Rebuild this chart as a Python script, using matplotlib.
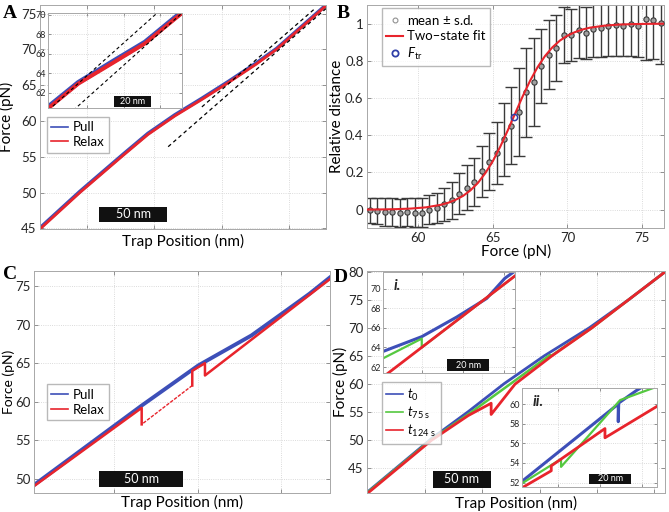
import numpy as np
import matplotlib
matplotlib.use("Agg")
import matplotlib.pyplot as plt
from matplotlib.patches import Rectangle

plt.rcParams['font.family'] = ['Lato', 'DejaVu Sans']
plt.rcParams['mathtext.fontset'] = 'custom'
plt.rcParams['mathtext.rm'] = 'Lato'
plt.rcParams['mathtext.it'] = 'Lato:italic'

BLUE = '#3d4fb8'
RED = '#e8242c'
GREEN = '#55c840'
GRAY = '#a8a8a8'
TXT = '#262626'

# ---------------- panel A : force vs trap position (nm, pN)
a_pull_x = [0, 29.6, 61.7, 80, 100, 120, 140, 160, 175.3, 212]
a_pull_f = [45.05, 50.15, 55.35, 58.25, 60.85, 63.15, 65.55, 68.05, 70.1, 76.2]
a_relax_x = [0, 29.6, 61.7, 80, 100, 120, 140, 160, 175.3, 212]
a_relax_f = [44.9, 50.0, 55.2, 58.1, 60.7, 63.0, 65.4, 67.9, 70.0, 76.1]
a_fold_x = [120, 204.4]
a_fold_f = [61.96, 75.8]
a_unfold_x = [95, 212]
a_unfold_f = [56.4, 75.7]

# inset of A
ai_pull_x = [0, 16.5, 36.7, 53.2, 73.4]
ai_pull_f = [60.55, 63.05, 65.35, 67.2, 70.3]
ai_relax_x = [0, 16.5, 36.7, 53.2, 73.4]
ai_relax_f = [60.4, 62.93, 65.2, 67.07, 70.17]
ai_fold_x = [0, 59.7]
ai_fold_f = [60.2, 70.17]
ai_unfold_x = [13.8, 73.4]
ai_unfold_f = [60.2, 70.17]

# ---------------- panel B : relative distance vs force
b_force = [56.75, 57.25, 57.75, 58.25, 58.75, 59.25, 59.75, 60.25, 60.75, 61.25,
           61.75, 62.25, 62.75, 63.25, 63.75, 64.25, 64.75, 65.25, 65.75, 66.25,
           66.75, 67.25, 67.75, 68.25, 68.75, 69.25, 69.75, 70.25, 70.75, 71.25,
           71.75, 72.25, 72.75, 73.25, 73.75, 74.25, 74.75, 75.25, 75.75, 76.25]
b_mean = [-0.004, -0.009, -0.013, -0.013, -0.016, -0.013, -0.016, -0.016, 0.0, 0.009,
          0.029, 0.05, 0.086, 0.119, 0.149, 0.207, 0.257, 0.306, 0.378, 0.451,
          0.527, 0.63, 0.685, 0.773, 0.833, 0.869, 0.937, 0.94, 0.964, 0.95,
          0.973, 0.977, 0.986, 0.991, 0.986, 0.998, 0.989, 1.025, 1.021, 1.003]
b_sd = [0.065, 0.07, 0.074, 0.074, 0.075, 0.076, 0.077, 0.077, 0.077, 0.08,
        0.09, 0.10, 0.11, 0.12, 0.13, 0.137, 0.153, 0.166, 0.198, 0.207,
        0.236, 0.237, 0.236, 0.20, 0.187, 0.175, 0.15, 0.14, 0.15, 0.14,
        0.15, 0.155, 0.16, 0.165, 0.16, 0.17, 0.17, 0.22, 0.21, 0.22]
fit_force = [56.5, 57.5, 58.5, 59.5, 60.5, 61.5, 62.0, 62.5, 63.0, 63.5, 64.0, 64.5,
             65.0, 65.5, 66.0, 66.5, 67.0, 67.5, 68.0, 68.5, 69.0, 69.5, 70.0, 70.5,
             71.0, 71.5, 72.5, 73.5, 74.5, 75.5, 76.5]
fit_value = [0.0007, 0.0014, 0.0029, 0.006, 0.0125, 0.026, 0.037, 0.053, 0.074, 0.104,
             0.144, 0.197, 0.261, 0.339, 0.426, 0.518, 0.609, 0.693, 0.766, 0.826,
             0.873, 0.909, 0.935, 0.954, 0.968, 0.978, 0.989, 0.995, 0.9975, 0.9988, 0.9994]
f_tr = 66.4
f_tr_value = 0.5

# ---------------- panel C
c_pull_x = [0, 64.5, 98.4, 130.3, 150.3, 165, 178.3]
c_pull_f = [49.2, 59.5, 64.7, 68.6, 71.7, 74.0, 76.3]
# relax: unfolded branch with two hops, sparse stretch, then refolded branch
c_relax_hi_x = [178.3, 102.4, 102.4, 94.8, 94.8]
c_relax_hi_f = [76.07, 63.4, 65.0, 64.0, 62.1]
c_relax_mid_x = [94.8, 64.5]
c_relax_mid_f = [62.1, 57.06]
c_relax_lo_x = [64.5, 64.5, 0]
c_relax_lo_f = [57.06, 59.2, 49.05]

# ---------------- panel D
d_t0_x = [0, 56, 88, 119.4, 154.3, 193.6, 227.5, 259.5]
d_t0_f = [40.75, 50.3, 55.1, 60.1, 65.05, 70.05, 75.0, 80.0]
d_t75_x = [0, 56, 90, 123.8, 159.3, 159.3, 195.6, 227.5, 259.5]
d_t75_f = [40.65, 50.15, 54.9, 59.9, 65.2, 64.9, 70.0, 75.0, 80.0]
d_t124_x = [0, 56, 88, 108, 108, 128.8, 160.7, 195.6, 227.5, 259.5]
d_t124_f = [40.5, 50.0, 54.4, 56.6, 54.6, 60.0, 65.0, 70.0, 75.0, 80.0]

# inset i of D
di_t0_x = [0, 18.6, 35.5, 50, 58.8, 63.7]
di_t0_f = [63.6, 65.1, 67.1, 69.0, 71.06, 71.8]
di_t75_x = [0, 18.6, 18.6, 63.7]
di_t75_f = [62.9, 64.9, 64.0, 71.3]
di_t124_x = [0, 63.7]
di_t124_f = [61.0, 71.3]

# inset ii of D
dii_t0_x = [0, 46.4, 46.4, 46.6, 55.3, 60]
dii_t0_f = [52.1, 60.0, 58.2, 60.1, 61.4, 62.0]
dii_t75_x = [0, 18.9, 18.9, 47.3, 64.9]
dii_t75_f = [51.9, 54.4, 53.6, 60.4, 61.76]
dii_t124_x = [64.9, 40.0, 40.0, 14.2, 14.2, 0]
dii_t124_f = [59.75, 56.56, 57.5, 53.7, 53.2, 51.45]


def px_axes(fig, l, t, r, b):
    W, H = 669.0, 512.0
    return fig.add_axes([l / W, 1 - b / H, (r - l) / W, (b - t) / H])


def style(ax, fs=9.5):
    for s in ax.spines.values():
        s.set_color(GRAY)
        s.set_linewidth(0.7)
    ax.tick_params(direction='in', length=3, width=0.6, color='#808080',
                   labelsize=fs, labelcolor=TXT, top=True, right=True, pad=2.5)
    ax.grid(True, color='#cfcfcf', linestyle=':', linewidth=0.6)
    ax.set_axisbelow(True)


def labels(ax, xlab, ylab, xy_x, xy_y, fs=11):
    ax.set_xlabel(xlab, fontsize=11)
    ax.set_ylabel(ylab, fontsize=fs)
    ax.xaxis.set_label_coords(0.5, xy_y)
    ax.yaxis.set_label_coords(xy_x, 0.5)


def scalebar(ax, x0, x1, y0, y1, label, fs):
    ax.add_patch(Rectangle((x0, y0), x1 - x0, y1 - y0, facecolor='#111111',
                           edgecolor='none', zorder=6))
    ax.text((x0 + x1) / 2, (y0 + y1) / 2, label, color='white', fontsize=fs,
            ha='center', va='center', zorder=7)


fig = plt.figure(figsize=(6.69, 5.12), dpi=100)

# ---- A
ax = px_axes(fig, 40, 5, 326, 229)
style(ax)
ax.plot(a_pull_x, a_pull_f, color=BLUE, lw=2.6, label='Pull')
ax.plot(a_relax_x, a_relax_f, color=RED, lw=2.0, label='Relax')
ax.plot(a_fold_x, a_fold_f, color='k', ls=(0, (3, 2.5)), lw=0.9)
ax.plot(a_unfold_x, a_unfold_f, color='k', ls=(0, (3, 2.5)), lw=0.9)
ax.set_xlim(0, 212)
ax.set_ylim(44.9, 76.2)
ax.set_xticks([34.6, 84.6, 134.6, 184.6])
ax.set_xticklabels([])
ax.set_yticks([45, 50, 55, 60, 65, 70, 75])
labels(ax, 'Trap Position (nm)', 'Force (pN)', -0.09, -0.02)
scalebar(ax, 43.7, 94.3, 45.93, 48.03, '50 nm', 9)
leg = ax.legend(loc='upper left', bbox_to_anchor=(0.023, 0.501), borderaxespad=0,
                fontsize=9.5, handlelength=1.3, handletextpad=0.3, labelspacing=0.2,
                fancybox=False, edgecolor=GRAY, borderpad=0.35)
for h in leg.get_lines():
    h.set_linewidth(1.2)

axi = px_axes(fig, 48.3, 13.3, 181.7, 108.3)
style(axi, fs=6.5)
axi.plot(ai_pull_x, ai_pull_f, color=BLUE, lw=3.6)
axi.plot(ai_relax_x, ai_relax_f, color=RED, lw=2.8)
axi.plot(ai_fold_x, ai_fold_f, color='k', ls=(0, (3, 2.5)), lw=0.8)
axi.plot(ai_unfold_x, ai_unfold_f, color='k', ls=(0, (3, 2.5)), lw=0.8)
axi.set_xlim(0, 73.4)
axi.set_ylim(60.4, 70.17)
axi.set_xticks([21.5, 41.5, 61.5])
axi.set_xticklabels([])
axi.set_yticks([62, 64, 66, 68, 70])
axi.tick_params(length=2, pad=1.5)
scalebar(axi, 36.3, 56.5, 60.58, 61.65, '20 nm', 6.5)

# ---- B
ax = px_axes(fig, 367, 5, 664.3, 228.3)
style(ax)
ax.errorbar(b_force, b_mean, yerr=b_sd, fmt='none', ecolor='#3a3a3a',
            elinewidth=1.0, capsize=4.3, capthick=1.0, zorder=2)
ax.plot(b_force, b_mean, 'o', ms=3.8, mfc='#a0a0a0', mec='#3a3a3a', mew=0.8,
        zorder=3)
ax.plot(fit_force, fit_value, color=RED, lw=1.5, zorder=4)
ax.plot([f_tr], [f_tr_value], 'o', ms=4.5, mfc='none', mec='#3040a8', mew=1.1,
        zorder=5)
h1, = ax.plot([], [], 'o', ms=3.5, mfc='none', mec='#909090', mew=0.8)
h2, = ax.plot([], [], color=RED, lw=1.5)
h3, = ax.plot([], [], 'o', ms=4.5, mfc='none', mec='#3040a8', mew=1.3)
ax.legend([h1, h2, h3], ['mean $\\pm$ s.d.', 'Two\u2013state fit', '$F_{\\rm tr}$'],
          loc='upper left', bbox_to_anchor=(0.049, 0.985), borderaxespad=0,
          fontsize=9.5, handlelength=1.3, handletextpad=0.3, labelspacing=0.25,
          fancybox=False, edgecolor=GRAY, borderpad=0.35)
ax.set_xlim(56.56, 76.5)
ax.set_ylim(-0.1, 1.1)
ax.set_xticks([60, 65, 70, 75])
ax.set_yticks([0, 0.2, 0.4, 0.6, 0.8, 1])
ax.set_yticklabels(['0', '0.2', '0.4', '0.6', '0.8', '1'])
labels(ax, 'Force (pN)', 'Relative distance', -0.076, -0.068)

# ---- C
ax = px_axes(fig, 34, 271, 330, 492.7)
style(ax)
ax.plot(c_pull_x, c_pull_f, color=BLUE, lw=2.8, label='Pull')
ax.plot(c_relax_hi_x, c_relax_hi_f, color=RED, lw=1.8, label='Relax')
ax.plot(c_relax_mid_x, c_relax_mid_f, color=RED, lw=1.0, ls=(0, (2.5, 1)))
ax.plot(c_relax_lo_x, c_relax_lo_f, color=RED, lw=1.8)
ax.set_xlim(0, 177.3)
ax.set_ylim(48.2, 76.95)
ax.set_xticks([48.1, 98.1, 148.1])
ax.set_xticklabels([])
ax.set_yticks([50, 55, 60, 65, 70, 75])
labels(ax, 'Trap Position (nm)', 'Force (pN)', -0.063, -0.008, fs=10)
scalebar(ax, 39.1, 89.4, 48.96, 51.0, '50 nm', 9)
leg = ax.legend(loc='upper left', bbox_to_anchor=(0.043, 0.489), borderaxespad=0,
                fontsize=9.5, handlelength=1.3, handletextpad=0.3, labelspacing=0.2,
                fancybox=False, edgecolor=GRAY, borderpad=0.35)
for h in leg.get_lines():
    h.set_linewidth(1.2)

# ---- D
ax = px_axes(fig, 367.3, 271, 665, 493.3)
style(ax)
ax.plot(d_t0_x, d_t0_f, color=BLUE, lw=2.0, label='$t_0$')
ax.plot(d_t75_x, d_t75_f, color=GREEN, lw=1.8, label='$t_{75\\ \\rm s}$')
ax.plot(d_t124_x, d_t124_f, color=RED, lw=2.0, label='$t_{124\\ \\rm s}$')
ax.set_xlim(0, 259.6)
ax.set_ylim(40.54, 80.18)
ax.set_xticks([50.3, 100.3, 150.3, 200.3, 250.3])
ax.set_xticklabels([])
ax.set_yticks([45, 50, 55, 60, 65, 70, 75, 80])
labels(ax, 'Trap Position (nm)', 'Force (pN)', -0.065, -0.01)
scalebar(ax, 57.0, 107.8, 41.55, 44.53, '50 nm', 9)
leg = ax.legend(loc='upper left', bbox_to_anchor=(0.048, 0.50), borderaxespad=0,
                fontsize=9.5, handlelength=1.3, handletextpad=0.3, labelspacing=0.15,
                fancybox=False, edgecolor=GRAY, borderpad=0.35)
for h in leg.get_lines():
    h.set_linewidth(1.2)

axi = px_axes(fig, 383.3, 272, 515, 373.3)
style(axi, fs=6.5)
axi.plot(di_t0_x, di_t0_f, color=BLUE, lw=2.2)
axi.plot(di_t75_x, di_t75_f, color=GREEN, lw=1.6)
axi.plot(di_t124_x, di_t124_f, color=RED, lw=2.0)
axi.set_xlim(0, 63.7)
axi.set_ylim(61.36, 71.7)
axi.set_xticks([18.6, 38.6, 58.6])
axi.set_xticklabels([])
axi.set_yticks([62, 64, 66, 68, 70])
axi.tick_params(length=2, pad=1.5)
axi.text(0.08, 0.93, 'i.', transform=axi.transAxes, fontsize=11,
         fontweight='bold', fontstyle='italic', va='top', color=TXT)
scalebar(axi, 30.9, 51.2, 61.62, 62.78, '20 nm', 6.5)

axi = px_axes(fig, 521.7, 388.3, 657, 486.5)
style(axi, fs=6.5)
axi.plot(dii_t0_x, dii_t0_f, color=BLUE, lw=2.2)
axi.plot(dii_t75_x, dii_t75_f, color=GREEN, lw=1.6)
axi.plot(dii_t124_x, dii_t124_f, color=RED, lw=2.0)
axi.set_xlim(0, 65)
axi.set_ylim(51.6, 61.6)
axi.set_xticks([17.6, 37.6, 57.6])
axi.set_xticklabels([])
axi.set_yticks([52, 54, 56, 58, 60])
axi.tick_params(length=2, pad=1.5)
axi.text(0.08, 0.93, 'ii.', transform=axi.transAxes, fontsize=11,
         fontweight='bold', fontstyle='italic', va='top', color=TXT)
scalebar(axi, 32.5, 52.6, 51.88, 52.9, '20 nm', 6.5)

# panel letters
for lab, x, y in [('A', 3, 18), ('B', 337, 18), ('C', 3, 279), ('D', 334, 282)]:
    fig.text(x / 669.0, 1 - y / 512.0, lab, fontsize=14, fontweight='bold',
             family='Liberation Serif', va='baseline')

fig.savefig('out.png', dpi=100)
